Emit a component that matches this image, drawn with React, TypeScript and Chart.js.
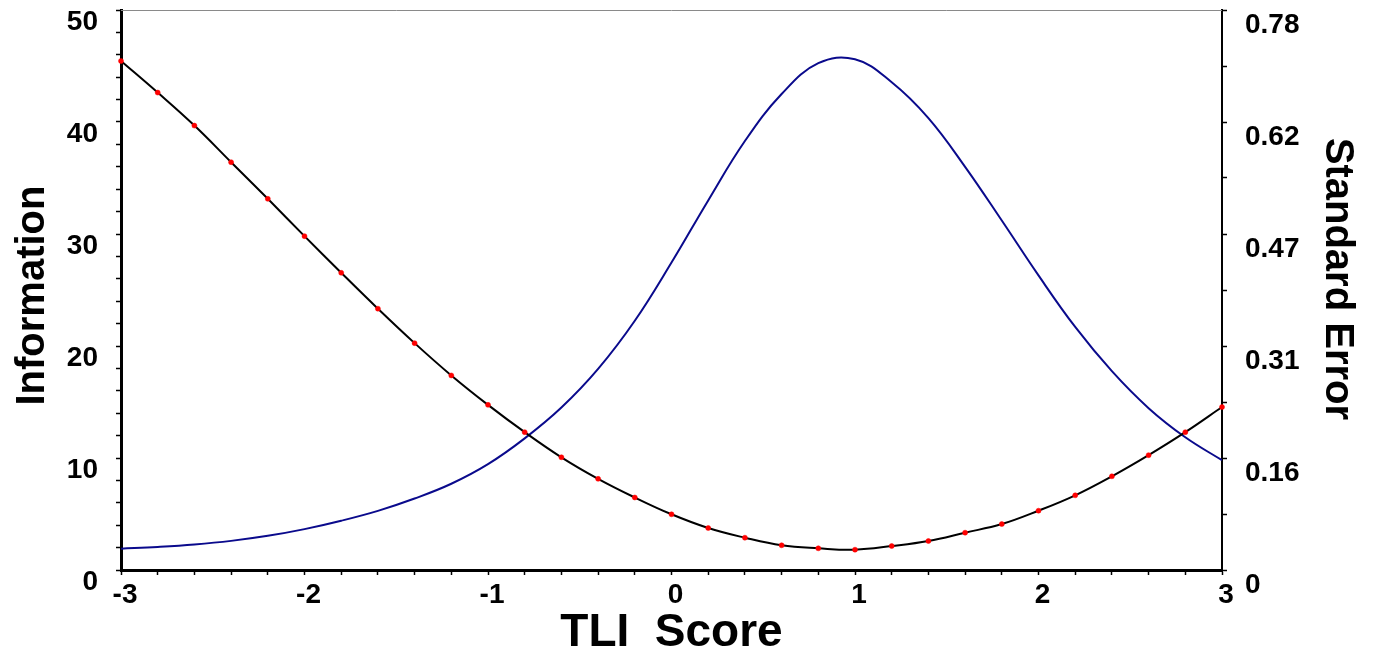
import React, { useEffect, useRef } from 'react';
import { Chart, registerables } from 'chart.js';

Chart.register(...registerables);

// TLI score grid shared by both curves
const scoreX = [-3, -2.8, -2.6, -2.4, -2.2, -2, -1.8, -1.6, -1.4, -1.2, -1, -0.8, -0.6, -0.4, -0.2, 0,
  0.2, 0.4, 0.6, 0.8, 1, 1.2, 1.4, 1.6, 1.8, 2, 2.2, 2.4, 2.6, 2.8, 3];

// Standard error (black line, red markers) - right axis
const standardError = [0.709, 0.665, 0.619, 0.568, 0.517, 0.465, 0.414, 0.364, 0.316, 0.271, 0.230, 0.192,
  0.157, 0.127, 0.101, 0.0776, 0.0585, 0.045, 0.0344, 0.0302, 0.0283, 0.0334, 0.0404, 0.052, 0.064,
  0.0826, 0.104, 0.1305, 0.160, 0.192, 0.227];

// Information (blue line) - left axis
const information = [1.9, 2.06, 2.28, 2.6, 3.05, 3.65, 4.4, 5.28, 6.38, 7.7, 9.45, 11.75, 14.5, 17.95, 22.25,
  27.45, 33.0, 38.3, 42.5, 45.25, 45.6, 43.55, 40.35, 36.0, 31.2, 26.3, 21.7, 17.75, 14.45, 11.85, 9.8];

// Tick labels
const xTickLabels = ['-3', '-2', '-1', '0', '1', '2', '3'];
const infoTickLabels = ['0', '10', '20', '30', '40', '50'];
const seTickLabels = ['0', '0.16', '0.31', '0.47', '0.62', '0.78'];

const X_MIN = -3, X_MAX = 3, X_MINOR = 0.2;
const INFO_MAX = 50, INFO_MINOR = 2;
const SE_MAX = 0.78, SE_MINOR = 0.078;

const FONT = '"Liberation Sans", Arial, Helvetica, sans-serif';

const topLine = {
  id: 'topLine',
  afterDraw(chart: any) {
    const { ctx, chartArea } = chart;
    ctx.save();
    ctx.strokeStyle = '#8a8a8a';
    ctx.lineWidth = 1;
    ctx.beginPath();
    ctx.moveTo(chartArea.left, chartArea.top + 0.5);
    ctx.lineTo(chartArea.right, chartArea.top + 0.5);
    ctx.stroke();
    ctx.restore();
  },
};

const noPad = (s: any) => {
  s.paddingTop = 0;
  s.paddingBottom = 0;
  s.paddingLeft = 0;
  s.paddingRight = 0;
};

export default function App() {
  const ref = useRef<HTMLCanvasElement>(null);

  useEffect(() => {
    document.body.style.margin = '0';
    const canvas = ref.current;
    if (!canvas) return;

    const tickFont = { family: FONT, size: 28, weight: 'bold' as const };
    const tickGrid = { drawOnChartArea: false, drawTicks: true, tickLength: 5, tickColor: '#000', tickWidth: 1.5 };

    const chart = new Chart(canvas, {
      type: 'line',
      data: {
        datasets: [
          {
            label: 'Standard Error',
            data: scoreX.map((x, i) => ({ x, y: standardError[i] })),
            yAxisID: 'y1',
            borderColor: '#000000',
            borderWidth: 2,
            pointRadius: 2.5,
            pointBackgroundColor: '#ff0000',
            pointBorderColor: '#ff0000',
            pointBorderWidth: 0.5,
            tension: 0.4,
            clip: false as any,
            order: 1,
          },
          {
            label: 'Information',
            data: scoreX.map((x, i) => ({ x, y: information[i] })),
            yAxisID: 'y',
            borderColor: '#0a0a8c',
            borderWidth: 2,
            pointRadius: 0,
            tension: 0.4,
            order: 2,
          },
        ],
      },
      options: {
        responsive: false,
        animation: false,
        devicePixelRatio: 1,
        layout: { padding: { left: 0, right: 0, top: 10, bottom: 0 } },
        plugins: { legend: { display: false }, tooltip: { enabled: false } },
        scales: {
          x: {
            type: 'linear',
            position: 'bottom',
            min: X_MIN,
            max: X_MAX,
            afterBuildTicks: (s: any) => {
              const n = Math.round((X_MAX - X_MIN) / X_MINOR);
              s.ticks = Array.from({ length: n + 1 }, (_, i) => ({ value: +(X_MIN + i * X_MINOR).toFixed(4) }));
            },
            afterFit: (s: any) => { s.height = 82; noPad(s); },
            ticks: {
              autoSkip: false,
              maxRotation: 0,
              padding: 3,
              labelOffset: 4,
              color: '#000',
              font: tickFont,
              callback: (_v: any, i: number) => (i % 5 === 0 ? xTickLabels[i / 5] : ''),
            },
            grid: tickGrid,
            border: { display: true, color: '#000', width: 3 },
            title: {
              display: true,
              text: 'TLI  Score',
              color: '#000',
              font: { family: FONT, size: 46, weight: 'bold', lineHeight: 0.8 },
              padding: { top: 0, bottom: 0 },
            },
          },
          y: {
            type: 'linear',
            position: 'left',
            min: 0,
            max: INFO_MAX,
            afterBuildTicks: (s: any) => {
              const n = Math.round(INFO_MAX / INFO_MINOR);
              s.ticks = Array.from({ length: n + 1 }, (_, i) => ({ value: i * INFO_MINOR }));
            },
            afterFit: (s: any) => { s.width = 121; noPad(s); },
            ticks: {
              autoSkip: false,
              padding: 18,
              labelOffset: 12,
              color: '#000',
              font: tickFont,
              callback: (_v: any, i: number) => (i % 5 === 0 ? infoTickLabels[i / 5] : ''),
            },
            grid: tickGrid,
            border: { display: true, color: '#000', width: 3 },
            title: {
              display: true,
              text: 'Information ',
              color: '#000',
              font: { family: FONT, size: 40, weight: 'bold', lineHeight: 1.2 },
              padding: { top: 9, bottom: 0 },
            },
          },
          y1: {
            type: 'linear',
            position: 'right',
            min: 0,
            max: SE_MAX,
            afterBuildTicks: (s: any) => {
              const n = Math.round(SE_MAX / SE_MINOR);
              s.ticks = Array.from({ length: n + 1 }, (_, i) => ({ value: +(i * SE_MINOR).toFixed(4) }));
            },
            afterFit: (s: any) => { s.width = 152; noPad(s); },
            ticks: {
              autoSkip: false,
              padding: 18,
              labelOffset: 15,
              color: '#000',
              font: tickFont,
              callback: (_v: any, i: number) => (i % 2 === 0 ? seTickLabels[i / 2] : ''),
            },
            grid: tickGrid,
            border: { display: true, color: '#000', width: 2 },
            title: {
              display: true,
              text: 'Standard Error  ',
              color: '#000',
              font: { family: FONT, size: 40, weight: 'bold', lineHeight: 1.2 },
              padding: { top: 13, bottom: 0 },
            },
          },
        },
      },
      plugins: [topLine],
    } as any);

    return () => chart.destroy();
  }, []);

  return <canvas ref={ref} width={1374} height={652} style={{ display: 'block' }} />;
}
